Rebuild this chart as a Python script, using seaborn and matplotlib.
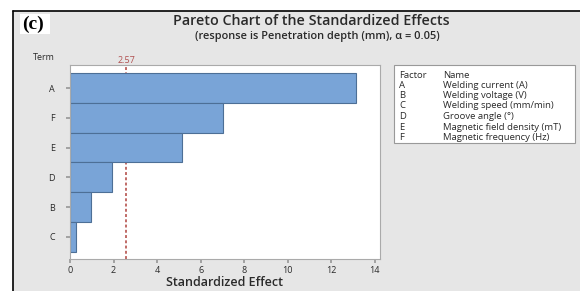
import matplotlib
matplotlib.use("Agg")
import matplotlib.pyplot as plt
import seaborn as sns
import pandas as pd
from matplotlib.patches import Rectangle
from matplotlib.lines import Line2D

terms = ["A", "F", "E", "D", "B", "C"]
effects = [13.12, 7.05, 5.15, 1.91, 0.95, 0.28]
critical = 2.57
xticks = [0, 2, 4, 6, 8, 10, 12, 14]
factors = ["A", "B", "C", "D", "E", "F"]
names = ["Welding current (A)", "Welding voltage (V)", "Welding speed (mm/min)",
         "Groove angle (°)", "Magnetic field density (mT)", "Magnetic frequency (Hz)"]

sns.set_theme(style="white")
plt.rcParams['font.family'] = ['Open Sans', 'DejaVu Sans']

BG = "#e6e6e6"
TXT = "#2a2a2a"
fig = plt.figure(figsize=(5.8, 2.91), dpi=100)
fig.patch.set_facecolor("white")
W, H = 580, 291
def fx(x): return x / W
def fy(y): return 1 - y / H

# gray panel with black left/top border
fig.patches.append(Rectangle((fx(13), 0), 1 - fx(13), fy(11), transform=fig.transFigure,
                             facecolor=BG, edgecolor="none", zorder=-5))
fig.lines.append(Line2D([fx(13), fx(13)], [0, fy(11)], transform=fig.transFigure, color="black", lw=1.2))
fig.lines.append(Line2D([fx(13), 1], [fy(11), fy(11)], transform=fig.transFigure, color="black", lw=1.2))

ax = fig.add_axes([fx(70), fy(259), fx(380) - fx(70), fy(65) - fy(259)])
df = pd.DataFrame({"Term": terms, "Effect": effects})
sns.barplot(data=df, x="Effect", y="Term", orient="h", width=1.0, color="#79a4d7",
            saturation=1, edgecolor="#4d6f96", linewidth=0.8, ax=ax)
ax.set_xlim(0, 14.24)
ax.set_ylim(5.75, -0.78)
ax.axvline(critical, color="#c06a66", ls=(0, (1.5, 1.2)), lw=1.4, zorder=0)
ax.set_xticks(xticks)
ax.set_xticklabels([str(t) for t in xticks], fontsize=6.5, color=TXT)
ax.tick_params(axis="y", labelsize=6.5, labelcolor=TXT, length=3, color="#999999", pad=8)
ax.tick_params(axis="x", length=3, color="#999999", pad=2, bottom=True)
ax.tick_params(axis="y", left=True)
ax.set_xlabel("")
ax.set_ylabel("")
for s in ax.spines.values():
    s.set_color("#aaaaaa")
    s.set_linewidth(0.8)
ax.set_facecolor("white")

fig.text(fx(225), fy(283), "Standardized Effect", fontsize=9, color=TXT, fontweight="semibold",
         ha="center", va="center")
fig.text(fx(44), fy(58), "Term", fontsize=6.5, color=TXT, ha="center", va="center")
ax.text(critical, 1.0, "2.57", transform=ax.get_xaxis_transform(), fontsize=6.5,
        color="#b05050", ha="center", va="bottom")

# title
fig.text(fx(311), fy(21), "Pareto Chart of the Standardized Effects", fontsize=10.3,
         color=TXT, fontweight="semibold", ha="center", va="center")
fig.text(fx(317), fy(36), "(response is Penetration depth (mm), α = 0.05)", fontsize=7.9,
         color=TXT, fontweight="semibold", ha="center", va="center")

# (c) label
fig.patches.append(Rectangle((fx(20), fy(34)), fx(30), fy(14) - fy(34), transform=fig.transFigure,
                             facecolor="white", edgecolor="none", zorder=1))
fig.text(fx(22), fy(24), "(c)", fontsize=14, fontweight="bold", family=["Liberation Serif", "DejaVu Serif"],
         color="black", ha="left", va="center", zorder=2)

# factor legend box
fig.patches.append(Rectangle((fx(394), fy(143)), fx(575) - fx(394), fy(65) - fy(143),
                             transform=fig.transFigure, facecolor="white",
                             edgecolor="#999999", lw=0.8, zorder=1))
ys = [75, 85, 95.5, 106, 116.5, 127, 137.5]
fs = 6.8
fig.text(fx(399), fy(ys[0]), "Factor", fontsize=fs, color=TXT, va="center", zorder=2)
fig.text(fx(443), fy(ys[0]), "Name", fontsize=fs, color=TXT, va="center", zorder=2)
for f, n, y in zip(factors, names, ys[1:]):
    fig.text(fx(399), fy(y), f, fontsize=fs, color=TXT, va="center", zorder=2)
    fig.text(fx(443), fy(y), n, fontsize=fs, color=TXT, va="center", zorder=2)

fig.savefig("out.png", dpi=100)
